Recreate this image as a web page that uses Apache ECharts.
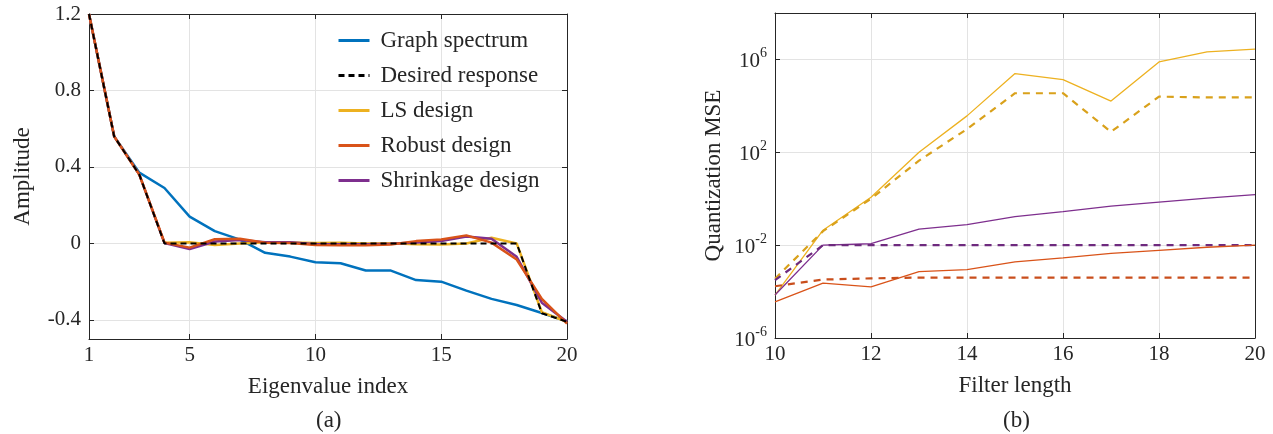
<!DOCTYPE html>
<html>
<head>
<meta charset="utf-8">
<script src="https://cdn.jsdelivr.net/npm/echarts@6/dist/echarts.min.js"></script>
<style>
html,body{margin:0;padding:0;background:#fff;}
#main{width:1273px;height:434px;}
</style>
</head>
<body>
<div id="main"></div>
<script>
// ---- (a) filter responses ----
var eigIndex = [1,2,3,4,5,6,7,8,9,10,11,12,13,14,15,16,17,18,19,20];
var graphSpectrum = [1.2,0.56,0.37,0.29,0.14,0.064,0.02,-0.049,-0.069,-0.099,-0.104,-0.142,-0.142,-0.192,-0.2,-0.247,-0.29,-0.322,-0.364,-0.407];
var desiredResp = [1.2,0.56,0.36,0,0,0,0,0,0,0,0,0,0,0,0,0,0,0,-0.365,-0.41];
var lsDesign = [1.2,0.56,0.36,0.004,0.006,-0.008,0.0,0.006,0.005,0.002,0.004,0.0,0.001,-0.004,-0.006,0.0,0.03,0.0,-0.36,-0.41];
var robustDesign = [1.2,0.56,0.36,0.004,-0.022,0.022,0.024,0.004,0.002,-0.008,-0.01,-0.01,-0.006,0.012,0.02,0.042,0.004,-0.084,-0.29,-0.42];
var shrinkDesign = [1.2,0.56,0.36,0.002,-0.03,0.01,0.018,0.006,0.006,-0.004,-0.004,-0.004,-0.002,0.005,0.012,0.036,0.024,-0.07,-0.31,-0.41];
var ampTicks = [-0.4,0,0.4,0.8,1.2];
var eigTicks = [1,5,10,15,20];

// ---- (b) quantization MSE ----
var filterLength = [10,11,12,13,14,15,16,17,18,19,20];
var lsSolid   = [7.1e-5,0.044,1.15,100,3700,2.45e5,1.35e5,1.6e4,7.8e5,2.1e6,2.8e6];
var lsDashed  = [3.6e-4,0.04,1.0,44,1000,3.5e4,3.5e4,760,2.5e4,2.3e4,2.3e4];
var shrSolid  = [7.1e-5,0.01,0.0115,0.049,0.076,0.17,0.28,0.48,0.71,1.05,1.5];
var shrDashed = [3.1e-4,0.01,0.01,0.01,0.01,0.01,0.01,0.01,0.01,0.01,0.01];
var robSolid  = [3.6e-5,2.3e-4,1.6e-4,7.2e-4,8.9e-4,1.9e-3,2.8e-3,4.4e-3,6.0e-3,8.1e-3,0.01];
var robDashed = [1.7e-4,3.3e-4,3.7e-4,4.0e-4,4.0e-4,4.0e-4,4.0e-4,4.0e-4,4.0e-4,4.0e-4,4.0e-4];
var mseTicks = [1e-6,1e-2,1e2,1e6];

var FONT = '"Liberation Serif","Times New Roman",serif';
var INK = '#262626';
var GRIDC = '#e3e3e3';

function pairs(xs, ys) {
  return xs.map(function (x, i) { return [x, ys[i]]; });
}

var myChart = echarts.init(document.getElementById('main'));

function mirrorAxis(pos, gridIndex, extra) {
  var a = {
    gridIndex: gridIndex,
    position: pos,
    axisLine: {show: true, onZero: false, lineStyle: {color: INK, width: 1}},
    axisTick: {show: true, inside: true, length: 5, lineStyle: {color: INK}},
    axisLabel: {show: false},
    splitLine: {show: false}
  };
  return Object.assign(a, extra);
}

function lineSeries(name, xs, ys, color, width, type, xi, yi) {
  return {
    name: name, type: 'line', data: pairs(xs, ys),
    xAxisIndex: xi, yAxisIndex: yi,
    symbol: 'none', smooth: false, silent: true,
    lineStyle: {color: color, width: width, type: type},
    itemStyle: {color: color}
  };
}

myChart.setOption({
  animation: false,
  textStyle: {fontFamily: FONT, color: INK},
  grid: [
    {left: 89, top: 14, width: 478, height: 325, show: false},
    {left: 775, top: 13, width: 480, height: 325, show: false}
  ],
  legend: {
    data: ['Graph spectrum', 'Desired response', 'LS design', 'Robust design', 'Shrinkage design'],
    orient: 'vertical',
    left: 332, top: 24,
    itemWidth: 31, itemHeight: 14, itemGap: 12,
    itemStyle: {opacity: 0},
    lineStyle: {width: 3},
    textStyle: {fontFamily: FONT, fontSize: 23, color: INK, lineHeight: 23, padding: [0, 0, 0, 6]}
  },
  xAxis: [
    {
      type: 'value', gridIndex: 0, min: 1, max: 20,
      axisLine: {show: true, onZero: false, lineStyle: {color: INK}},
      axisTick: {show: true, inside: true, length: 5, customValues: eigTicks, lineStyle: {color: INK}},
      axisLabel: {customValues: eigTicks, fontSize: 21, color: INK, margin: 6, fontFamily: FONT},
      splitLine: {show: true, lineStyle: {color: GRIDC}},
      name: 'Eigenvalue index', nameLocation: 'middle', nameGap: 36,
      nameTextStyle: {fontSize: 23, color: INK, fontFamily: FONT}
    },
    mirrorAxis('top', 0, {type: 'value', min: 1, max: 20,
      axisTick: {show: true, inside: true, length: 5, customValues: eigTicks, lineStyle: {color: INK}}}),
    {
      type: 'value', gridIndex: 1, min: 10, max: 20, interval: 2,
      axisLine: {show: true, onZero: false, lineStyle: {color: INK}},
      axisTick: {show: true, inside: true, length: 5, lineStyle: {color: INK}},
      axisLabel: {fontSize: 21, color: INK, margin: 6, fontFamily: FONT},
      splitLine: {show: true, lineStyle: {color: GRIDC}},
      name: 'Filter length', nameLocation: 'middle', nameGap: 36,
      nameTextStyle: {fontSize: 23, color: INK, fontFamily: FONT}
    },
    mirrorAxis('top', 1, {type: 'value', min: 10, max: 20, interval: 2})
  ],
  yAxis: [
    {
      type: 'value', gridIndex: 0, min: -0.5, max: 1.2,
      axisLine: {show: true, onZero: false, lineStyle: {color: INK}},
      axisTick: {show: true, inside: true, length: 5, customValues: ampTicks, lineStyle: {color: INK}},
      axisLabel: {customValues: ampTicks, fontSize: 21, color: INK, margin: 8, fontFamily: FONT},
      splitLine: {show: true, lineStyle: {color: GRIDC}},
      name: 'Amplitude', nameLocation: 'middle', nameGap: 55,
      nameTextStyle: {fontSize: 23, color: INK, fontFamily: FONT}
    },
    mirrorAxis('right', 0, {type: 'value', min: -0.5, max: 1.2,
      axisTick: {show: true, inside: true, length: 5, customValues: ampTicks, lineStyle: {color: INK}}}),
    {
      type: 'log', logBase: 10, gridIndex: 1, min: 1e-6, max: 1e8,
      axisLine: {show: true, onZero: false, lineStyle: {color: INK}},
      axisTick: {show: true, inside: true, length: 5, customValues: mseTicks, lineStyle: {color: INK}},
      axisLabel: {
        customValues: mseTicks, margin: 8, color: INK, fontFamily: FONT,
        formatter: function (v) {
          var e = Math.round(Math.log10(v));
          return '{b|10}{s|' + e + '}';
        },
        rich: {
          b: {fontSize: 21, lineHeight: 26, fontFamily: FONT, color: INK, verticalAlign: 'bottom'},
          s: {fontSize: 14, lineHeight: 26, fontFamily: FONT, color: INK, verticalAlign: 'top'}
        }
      },
      splitLine: {show: true, lineStyle: {color: GRIDC}},
      minorTick: {show: false}, minorSplitLine: {show: false},
      name: 'Quantization MSE', nameLocation: 'middle', nameGap: 50,
      nameTextStyle: {fontSize: 23, color: INK, fontFamily: FONT}
    },
    mirrorAxis('right', 1, {type: 'log', logBase: 10, min: 1e-6, max: 1e8,
      axisTick: {show: true, inside: true, length: 5, customValues: mseTicks, lineStyle: {color: INK}}})
  ],
  series: [
    lineSeries('Graph spectrum', eigIndex, graphSpectrum, '#0072BD', 2.5, 'solid', 0, 0),
    lineSeries('LS design', eigIndex, lsDesign, '#EDB120', 2.5, 'solid', 0, 0),
    lineSeries('Shrinkage design', eigIndex, shrinkDesign, '#7E2F8E', 2.5, 'solid', 0, 0),
    lineSeries('Robust design', eigIndex, robustDesign, '#D95319', 2.5, 'solid', 0, 0),
    lineSeries('Desired response', eigIndex, desiredResp, '#000000', 2, [6, 4], 0, 0),

    lineSeries('LS q', filterLength, lsSolid, '#EDB120', 1.3, 'solid', 2, 2),
    lineSeries('LS q dashed', filterLength, lsDashed, '#D9A11B', 2.2, [7, 6], 2, 2),
    lineSeries('Shrink q', filterLength, shrSolid, '#7E2F8E', 1.3, 'solid', 2, 2),
    lineSeries('Shrink q dashed', filterLength, shrDashed, '#6E2A7E', 2.2, [7, 6], 2, 2),
    lineSeries('Robust q', filterLength, robSolid, '#D95319', 1.3, 'solid', 2, 2),
    lineSeries('Robust q dashed', filterLength, robDashed, '#C94E1C', 2.2, [7, 6], 2, 2)
  ],
  graphic: [
    {type: 'text', left: 316, top: 409, style: {text: '(a)', font: '23px ' + FONT, fill: INK}},
    {type: 'text', left: 1003, top: 409, style: {text: '(b)', font: '23px ' + FONT, fill: INK}}
  ]
});
</script>
</body>
</html>
